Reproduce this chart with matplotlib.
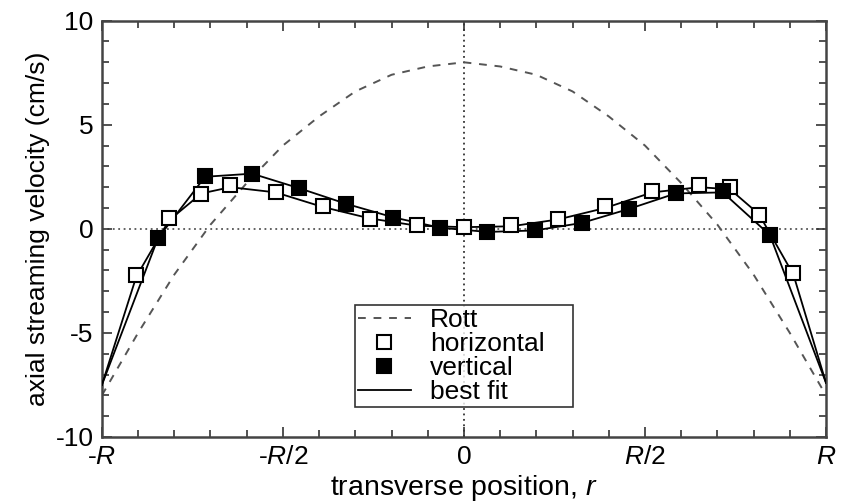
import matplotlib
matplotlib.use("Agg")
import matplotlib.pyplot as plt
from matplotlib.ticker import MultipleLocator

plt.rcParams['font.family'] = ['Liberation Sans', 'DejaVu Sans']
plt.rcParams['mathtext.fontset'] = 'custom'
plt.rcParams['mathtext.it'] = 'Liberation Sans:italic'
plt.rcParams['mathtext.rm'] = 'Liberation Sans'
plt.rcParams['axes.unicode_minus'] = False

# Rott theory (dashed)
rott_x = [-1.0, -0.9, -0.8, -0.7, -0.6, -0.5, -0.4, -0.3, -0.2, -0.1, 0.0,
          0.1, 0.2, 0.3, 0.4, 0.5, 0.6, 0.7, 0.8, 0.9, 1.0]
rott_y = [-8.0, -5.0, -2.2, 0.2, 2.2, 4.0, 5.4, 6.6, 7.4, 7.8, 8.0,
          7.8, 7.4, 6.6, 5.4, 4.0, 2.2, 0.2, -2.2, -5.0, -8.0]

# horizontal traverse (open squares)
hor_x = [-0.905, -0.815, -0.725, -0.645, -0.52, -0.39, -0.26, -0.13, 0.0,
         0.13, 0.26, 0.39, 0.52, 0.65, 0.735, 0.815, 0.91]
hor_y = [-2.24, 0.53, 1.69, 2.12, 1.77, 1.08, 0.48, 0.16, 0.1,
         0.17, 0.45, 1.08, 1.8, 2.12, 2.0, 0.64, -2.11]

# vertical traverse (filled squares)
ver_x = [-0.845, -0.715, -0.585, -0.455, -0.325, -0.195, -0.065,
         0.065, 0.195, 0.325, 0.455, 0.585, 0.715, 0.845]
ver_y = [-0.43, 2.52, 2.65, 1.97, 1.21, 0.53, 0.05,
         -0.16, -0.08, 0.29, 0.96, 1.73, 1.8, -0.3]

# best fit curves
fit_h_x = [-1.0, -0.905, -0.815, -0.725, -0.645, -0.52, -0.39, -0.26, -0.13, 0.0,
           0.13, 0.26, 0.39, 0.52, 0.65, 0.735, 0.815, 0.91, 1.0]
fit_h_y = [-7.5, -2.3, 0.4, 1.7, 2.0, 1.75, 1.05, 0.5, 0.15, 0.08,
           0.12, 0.45, 1.0, 1.75, 2.0, 1.9, 0.7, -2.2, -7.4]
fit_v_x = [-1.0, -0.845, -0.715, -0.585, -0.455, -0.325, -0.195, -0.065,
           0.065, 0.195, 0.325, 0.455, 0.585, 0.715, 0.845, 1.0]
fit_v_y = [-7.5, -0.45, 2.5, 2.65, 1.95, 1.2, 0.55, 0.05,
           -0.15, -0.08, 0.28, 0.95, 1.7, 1.75, -0.3, -7.4]

xtick_pos = [-1.0, -0.5, 0.0, 0.5, 1.0]
xtick_lab = ['-$R$', '-$R$/2', '0', '$R$/2', '$R$']
ytick_pos = [-10, -5, 0, 5, 10]

fig = plt.figure(figsize=(8.42, 5.04), dpi=100)
ax = fig.add_axes([0.121, 0.133, 0.860, 0.826])

ax.axhline(0, color='#555555', lw=1.3, ls=(0, (1, 2)), zorder=1)
ax.axvline(0, color='#333333', lw=1.3, ls=(0, (1, 2)), zorder=1)

ax.plot(rott_x, rott_y, color='#555555', lw=1.4, ls=(0, (4, 4)), label='Rott', zorder=2)
ax.plot(fit_h_x, fit_h_y, color='black', lw=1.3, zorder=3)
ax.plot(fit_v_x, fit_v_y, color='black', lw=1.3, zorder=3)
ax.plot(hor_x, hor_y, ls='none', marker='s', ms=10, mfc='white', mec='black',
        mew=1.5, label='horizontal', zorder=4)
ax.plot(ver_x, ver_y, ls='none', marker='s', ms=10, mfc='black', mec='black',
        mew=1.5, label='vertical', zorder=5)
ax.plot([], [], color='black', lw=1.3, label='best fit')

ax.set_xlim(-1, 1)
ax.set_ylim(-10, 10)
ax.set_xticks(xtick_pos)
ax.set_xticklabels(xtick_lab)
ax.set_yticks(ytick_pos)
ax.xaxis.set_minor_locator(MultipleLocator(0.1))
ax.yaxis.set_minor_locator(MultipleLocator(1))
ax.tick_params(which='both', direction='in', top=True, right=True,
               labelsize=19, width=1.2, color='#333333', pad=6)
ax.tick_params(which='major', length=7)
ax.tick_params(which='minor', length=5)
for s in ax.spines.values():
    s.set_linewidth(1.8)
    s.set_color('#444444')

ax.set_xlabel('transverse position, $r$', fontsize=20.5, labelpad=3)
ax.set_ylabel('axial streaming velocity (cm/s)', fontsize=19, labelpad=4)

leg = ax.legend(loc='lower left', bbox_to_anchor=(0.349, 0.072, 0.301, 0.25),
                mode='expand', borderaxespad=0,
                fontsize=19, frameon=True, fancybox=False, handlelength=2.0,
                labelspacing=0.0, borderpad=0.12, handletextpad=0.75)
leg.get_frame().set_edgecolor('black')
leg.get_frame().set_linewidth(1.2)

fig.savefig('out.png', dpi=100)
